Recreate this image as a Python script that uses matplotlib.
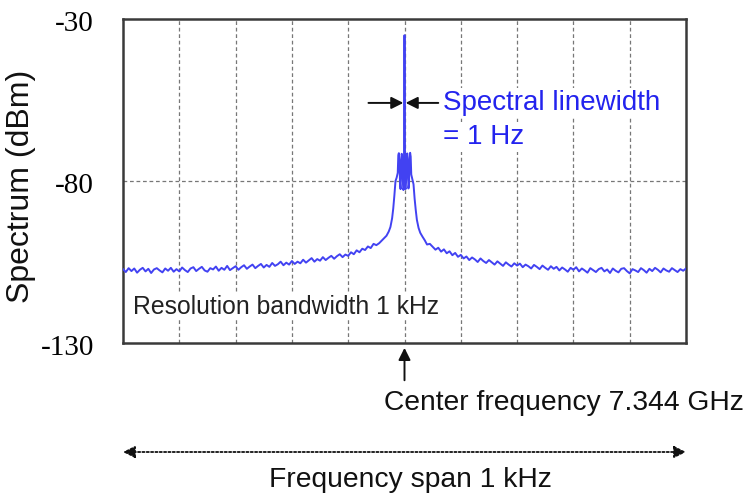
import numpy as np
import matplotlib
matplotlib.use("Agg")
import matplotlib.pyplot as plt
import matplotlib.transforms as mtrans

# ---- data ----
# frequency offset from 7.344 GHz, in Hz ; spectrum in dBm
wing_step = 5
left_start, left_stop = -500, -50
left_power = [
    -107.2, -108.1, -106.9, -107.8, -107.0, -108.3, -107.4, -106.8, -107.9, -107.1,
    -108.4, -107.3, -106.9, -107.6, -108.2, -107.0, -107.7, -106.8, -108.0, -107.2,
    -107.9, -106.7, -107.5, -108.1, -107.0, -106.6, -107.8, -107.1, -106.5, -107.6,
    -108.0, -106.9, -107.3, -106.4, -107.7, -106.8, -107.4, -106.2, -107.5, -106.9,
    -106.3, -107.4, -106.6, -106.0, -107.1, -106.4, -105.8, -106.9, -106.2, -105.6,
    -106.7, -105.9, -106.5, -105.3, -106.2, -105.7, -104.9, -106.0, -105.2, -105.8,
    -104.7, -105.6, -104.9, -105.4, -104.3, -105.2, -104.5, -103.8, -104.9, -104.1,
    -104.6, -103.5, -104.4, -103.7, -103.1, -104.0, -103.2, -102.6, -103.5, -102.7,
    -103.1, -102.0, -102.6, -101.4, -102.0, -100.9, -101.3, -100.2, -100.7, -99.4,
    -99.8,
]
center_freq = [
    -45, -40, -36, -32, -28, -25, -22, -20, -18, -16, -14, -12, -11, -10, -9, -8,
    -7, -6, -5, -4, -3, -2, -1, 0, 1, 2, 3, 4, 5, 6, 7, 8, 9, 10, 11, 12, 14, 16,
    18, 20, 22, 25, 28, 32, 36, 40, 45,
]
center_power = [
    -99.2, -98.3, -97.6, -96.9, -95.6, -94.2, -91.5, -88.5, -84.5, -80.0, -79.0,
    -77.5, -72.0, -71.4, -73.5, -80.5, -82.5, -75.0, -71.6, -72.5, -80.0, -82.8,
    -82.0, -35.0, -82.0, -82.5, -79.5, -72.0, -71.5, -75.5, -82.3, -81.0, -73.0,
    -71.3, -72.5, -78.0, -79.5, -81.0, -85.5, -89.0, -92.0, -94.5, -96.0, -97.2,
    -98.3, -99.6, -99.4,
]
right_start, right_stop = 50, 500
right_power = [
    -100.3, -101.2, -100.6, -101.8, -101.1, -102.3, -101.7, -102.9, -102.2, -103.4,
    -102.8, -103.9, -103.3, -104.4, -103.6, -104.2, -105.0, -103.9, -104.7, -105.3,
    -104.4, -105.1, -105.8, -104.8, -105.5, -106.2, -105.1, -105.8, -106.4, -105.4,
    -106.1, -105.5, -106.6, -105.8, -106.3, -107.0, -105.9, -106.5, -107.2, -106.1,
    -106.8, -107.4, -106.3, -107.1, -106.5, -107.6, -106.7, -107.3, -108.0, -106.8,
    -107.4, -106.6, -107.9, -107.0, -107.6, -108.3, -106.9, -107.5, -108.1, -107.2,
    -106.8, -107.9, -107.3, -108.4, -107.0, -107.7, -108.2, -107.1, -106.9, -107.8,
    -108.5, -107.2, -107.6, -108.1, -106.9, -107.5, -108.3, -107.1, -107.8, -106.8,
    -107.4, -108.2, -107.0, -107.6, -108.0, -106.9, -107.5, -108.1, -107.2, -107.7,
    -107.0,
]
ytick_values = [-130, -80, -30]
ytick_labels = ["-130", "-80", "-30"]

# ---- assemble ----
left_freq = np.arange(left_start, left_stop + 1, wing_step)
right_freq = np.arange(right_start, right_stop + 1, wing_step)
freq = np.concatenate([left_freq, center_freq, right_freq])
power = np.concatenate([left_power, center_power, right_power])

W, H = 747, 494
fig = plt.figure(figsize=(W / 100, H / 100), dpi=100)
L, R, T, B = 123, 686, 19, 343
ax = fig.add_axes([L / W, 1 - B / H, (R - L) / W, (B - T) / H])

ax.set_xlim(-500, 500)
ax.set_ylim(-130, -30)

grid_kw = dict(color="#777777", lw=0.9, ls=(0, (3, 2.2)), zorder=1)
for gx in range(-400, 401, 100):
    ax.axvline(gx, **grid_kw)
ax.axhline(-80, **grid_kw)

ax.plot(freq, power, color="#4242f2", lw=1.4, zorder=3, solid_joinstyle="round")

for s in ax.spines.values():
    s.set_color("#3a3a3a")
    s.set_linewidth(1.8)

ax.set_xticks([])
ax.set_yticks(ytick_values)
ax.set_yticklabels(ytick_labels, family="Liberation Serif", fontsize=21)
ax.tick_params(axis="y", length=0, pad=21)
offset = mtrans.ScaledTranslation(0, -5 / 100, fig.dpi_scale_trans)
for lbl in ax.get_yticklabels():
    lbl.set_verticalalignment("center")
    lbl.set_transform(lbl.get_transform() + offset)

fig.text(21 / W, 1 - 186 / H, "Spectrum (dBm)", rotation=90, ha="center", va="center",
         family="Liberation Sans", fontsize=23, color="#111111")

sans = "Liberation Sans"
blue = "#2323ee"

# resolution bandwidth text
ax.text(133, 1 - 307 / H, "Resolution bandwidth 1 kHz", transform=mtrans.blended_transform_factory(
        mtrans.IdentityTransform(), fig.transFigure),
        family=sans, fontsize=17.8, color="#222222", ha="left", va="center", zorder=4,
        bbox=dict(facecolor="white", edgecolor="none", pad=1.0))

# spectral linewidth label and arrows
y_arrow = -55.9
ftr = fig.transFigure
ax.text(443 / W, 1 - 103 / H, "Spectral linewidth", transform=ftr, family=sans, fontsize=20,
        color=blue, ha="left", va="center", zorder=4,
        bbox=dict(facecolor="white", edgecolor="none", pad=1.5))
ax.text(443 / W, 1 - 137 / H, "= 1 Hz", transform=ftr, family=sans, fontsize=20,
        color=blue, ha="left", va="center", zorder=4,
        bbox=dict(facecolor="white", edgecolor="none", pad=1.5))
ap = dict(arrowstyle="-|>", color="#111111", lw=1.4, mutation_scale=18, shrinkA=0, shrinkB=0)
ax.annotate("", xy=(-2, y_arrow), xytext=(-64, y_arrow), arrowprops=ap, zorder=5)
ax.annotate("", xy=(2, y_arrow), xytext=(60, y_arrow), arrowprops=ap, zorder=5)

# center frequency arrow + text
xtr = ax.get_xaxis_transform()
ax.annotate("", xy=(0, -0.015), xycoords=xtr, xytext=(0, -0.115), textcoords=xtr,
            arrowprops=dict(arrowstyle="-|>", color="#111111", lw=1.4, mutation_scale=18,
                            shrinkA=0, shrinkB=0), annotation_clip=False)
fig.text(744 / W, 1 - 403 / H, "Center frequency 7.344 GHz", ha="right", va="center",
         family=sans, fontsize=20.3, color="#111111")

# frequency span arrow + text
y_span = (B - 452) / (B - T)
ax.annotate("", xy=(500, y_span), xycoords=xtr, xytext=(-500, y_span), textcoords=xtr,
            arrowprops=dict(arrowstyle="<|-|>", color="#111111", lw=1.3, ls=(0, (1.2, 1.2)),
                            mutation_scale=18, shrinkA=0, shrinkB=0),
            annotation_clip=False)
fig.text(410 / W, 1 - 480 / H, "Frequency span 1 kHz", ha="center", va="center",
         family=sans, fontsize=20.3, color="#111111")

fig.savefig("out.png", dpi=100)
